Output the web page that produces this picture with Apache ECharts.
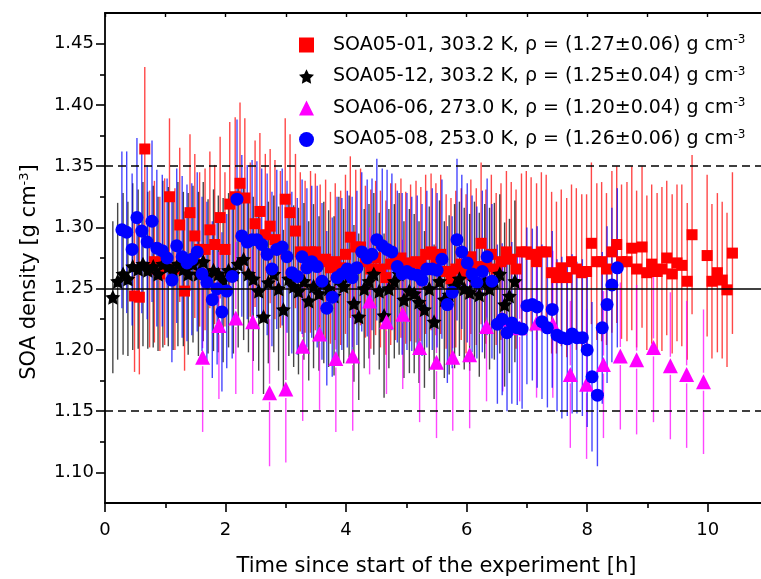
<!DOCTYPE html>
<html>
<head>
<meta charset="utf-8">
<script src="https://cdn.jsdelivr.net/npm/echarts@6/dist/echarts.min.js"></script>
<style>
  html, body { margin: 0; padding: 0; background: #ffffff; }
  #chart { width: 761px; height: 579px; }
</style>
</head>
<body>
<div id="chart"></div>
<script>
// ---- SOA05-01, 303.2 K (squares) ----
const redTime = [0.49,0.57,0.66,0.74,0.82,0.91,0.99,1.07,1.16,1.24,1.32,1.41,1.49,1.57,1.66,1.74,1.82,1.91,1.99,2.07,
  2.16,2.24,2.32,2.41,2.49,2.57,2.66,2.74,2.82,2.91,2.99,3.07,3.16,3.24,3.32,3.41,3.49,3.57,3.66,3.74,
  3.82,3.91,3.99,4.07,4.16,4.24,4.32,4.41,4.49,4.57,4.66,4.74,4.82,4.91,4.99,5.07,5.16,5.24,5.32,5.41,
  5.49,5.57,5.66,5.74,5.82,5.91,5.99,6.07,6.16,6.24,6.32,6.41,6.49,6.57,6.66,6.74,6.82,6.91,6.99,7.07,
  7.16,7.24,7.32,7.41,7.49,7.57,7.66,7.74,7.82,7.91,7.99,8.07,8.16,8.24,8.32,8.41,8.49,8.57,8.66,8.74,
  8.82,8.91,8.99,9.07,9.16,9.24,9.32,9.41,9.49,9.57,9.66,9.74,9.99,10.07,10.16,10.24,10.32,10.41];
const redDensity = [1.244,1.243,1.364,1.266,1.272,1.262,1.272,1.325,1.266,1.302,1.248,1.312,1.293,1.282,1.282,1.298,1.286,1.308,1.282,1.319,
  1.325,1.336,1.324,1.290,1.303,1.313,1.294,1.301,1.290,1.282,1.323,1.312,1.297,1.280,1.276,1.280,1.280,1.272,1.274,1.267,
  1.272,1.267,1.278,1.292,1.284,1.284,1.272,1.266,1.275,1.266,1.259,1.270,1.272,1.275,1.267,1.271,1.272,1.270,1.278,1.280,
  1.274,1.278,1.264,1.258,1.266,1.270,1.262,1.276,1.268,1.287,1.268,1.278,1.266,1.272,1.280,1.274,1.266,1.280,1.280,1.278,
  1.272,1.280,1.280,1.263,1.259,1.267,1.259,1.272,1.266,1.263,1.264,1.287,1.272,1.272,1.266,1.280,1.286,1.272,1.272,1.283,
  1.266,1.284,1.263,1.270,1.264,1.266,1.275,1.262,1.271,1.269,1.256,1.294,1.277,1.256,1.263,1.257,1.249,1.279];
const redError = [0.062,0.063,0.067,0.064,0.066,0.063,0.068,0.064,0.066,0.063,0.065,0.064,0.067,0.063,0.066,0.064,0.065,0.066,0.063,0.067,
  0.065,0.066,0.065,0.063,0.068,0.064,0.066,0.063,0.065,0.064,0.066,0.064,0.063,0.065,0.062,0.066,0.064,0.063,0.065,0.062,
  0.064,0.063,0.065,0.066,0.063,0.064,0.062,0.065,0.063,0.064,0.063,0.066,0.064,0.065,0.062,0.064,0.066,0.063,0.065,0.064,
  0.062,0.065,0.063,0.066,0.064,0.062,0.065,0.063,0.064,0.066,0.063,0.065,0.062,0.064,0.066,0.063,0.065,0.064,0.066,0.063,
  0.064,0.065,0.063,0.066,0.062,0.064,0.065,0.063,0.066,0.064,0.063,0.066,0.064,0.065,0.062,0.066,0.064,0.063,0.065,0.067,
  0.064,0.066,0.063,0.065,0.064,0.067,0.063,0.065,0.064,0.066,0.064,0.065,0.066,0.063,0.065,0.064,0.063,0.066];

// ---- SOA05-12, 303.2 K (stars) ----
const blackTime = [0.13,0.21,0.30,0.38,0.46,0.55,0.63,0.71,0.80,0.88,0.96,1.05,1.13,1.21,1.30,1.38,1.46,1.55,1.63,1.71,
  1.80,1.88,1.96,2.05,2.13,2.21,2.30,2.38,2.46,2.55,2.63,2.71,2.80,2.88,2.96,3.05,3.13,3.21,3.30,3.38,
  3.46,3.55,3.63,3.71,3.80,3.88,3.96,4.05,4.13,4.21,4.30,4.38,4.46,4.55,4.63,4.71,4.80,4.88,4.96,5.05,
  5.13,5.21,5.30,5.38,5.46,5.55,5.63,5.71,5.80,5.88,5.96,6.05,6.13,6.21,6.30,6.38,6.46,6.55,6.63,6.71,6.80];
const blackDensity = [1.243,1.256,1.262,1.258,1.268,1.266,1.270,1.265,1.268,1.262,1.270,1.268,1.264,1.270,1.266,1.262,1.270,1.262,1.272,1.260,
  1.265,1.262,1.257,1.265,1.262,1.270,1.274,1.262,1.258,1.248,1.227,1.255,1.262,1.250,1.233,1.258,1.252,1.248,1.256,1.240,
  1.252,1.246,1.255,1.250,1.244,1.258,1.252,1.260,1.238,1.227,1.250,1.256,1.262,1.248,1.228,1.250,1.256,1.262,1.241,1.248,
  1.246,1.239,1.233,1.250,1.223,1.256,1.241,1.245,1.252,1.258,1.250,1.247,1.256,1.245,1.256,1.250,1.256,1.262,1.237,1.244,1.256];
const blackError = [0.062,0.064,0.066,0.063,0.068,0.065,0.067,0.064,0.066,0.063,0.068,0.065,0.064,0.067,0.063,0.066,0.064,0.067,0.065,0.063,
  0.066,0.064,0.067,0.063,0.065,0.068,0.066,0.064,0.067,0.065,0.063,0.066,0.064,0.067,0.065,0.063,0.066,0.068,0.064,0.065,
  0.067,0.063,0.066,0.064,0.065,0.067,0.063,0.066,0.064,0.068,0.065,0.063,0.066,0.064,0.067,0.065,0.063,0.066,0.064,0.067,
  0.065,0.066,0.064,0.067,0.063,0.066,0.064,0.065,0.067,0.063,0.066,0.064,0.065,0.067,0.063,0.066,0.064,0.065,0.067,0.063,0.066];

// ---- SOA06-06, 273.0 K (triangles) ----
const magentaTime = [1.62,1.89,2.17,2.45,2.73,3.00,3.28,3.56,3.83,4.11,4.39,4.67,4.94,5.22,5.50,5.77,6.05,6.33,6.60,6.88,
  7.16,7.43,7.72,7.99,8.27,8.55,8.82,9.10,9.38,9.65,9.93];
const magentaDensity = [1.194,1.220,1.226,1.223,1.165,1.168,1.203,1.213,1.193,1.195,1.240,1.223,1.229,1.202,1.190,1.194,1.196,1.219,1.225,1.218,
  1.222,1.221,1.180,1.172,1.188,1.195,1.192,1.202,1.187,1.180,1.174];
const magentaError = [0.061,0.060,0.062,0.059,0.060,0.060,0.061,0.062,0.060,0.061,0.060,0.059,0.061,0.061,0.062,0.060,0.060,0.061,0.059,0.060,
  0.061,0.060,0.060,0.061,0.060,0.060,0.061,0.061,0.060,0.060,0.059];

// ---- SOA05-08, 253.0 K (circles) ----
const blueTime = [0.28,0.36,0.45,0.53,0.61,0.70,0.78,0.86,0.95,1.03,1.11,1.19,1.28,1.36,1.44,1.53,1.61,1.69,1.78,1.86,
  1.94,2.02,2.11,2.19,2.27,2.36,2.44,2.52,2.60,2.69,2.77,2.85,2.94,3.02,3.10,3.19,3.27,3.35,3.43,3.52,
  3.60,3.68,3.77,3.85,3.93,4.02,4.10,4.18,4.26,4.35,4.43,4.51,4.60,4.68,4.76,4.85,4.93,5.01,5.09,5.18,
  5.26,5.34,5.43,5.51,5.59,5.68,5.76,5.84,5.92,6.01,6.09,6.17,6.26,6.34,6.42,6.51,6.59,6.67,6.75,6.84,
  6.92,7.00,7.09,7.17,7.25,7.34,7.42,7.50,7.58,7.67,7.75,7.83,7.92,8.00,8.08,8.17,8.25,8.33,8.41,8.50];
const blueDensity = [1.298,1.296,1.282,1.308,1.297,1.288,1.305,1.283,1.281,1.275,1.257,1.285,1.276,1.271,1.274,1.280,1.262,1.255,1.241,1.250,
  1.231,1.248,1.260,1.323,1.293,1.288,1.290,1.290,1.286,1.278,1.266,1.282,1.284,1.276,1.263,1.260,1.276,1.267,1.272,1.268,
  1.256,1.234,1.243,1.259,1.262,1.266,1.259,1.267,1.280,1.275,1.278,1.290,1.285,1.282,1.280,1.268,1.262,1.264,1.262,1.261,
  1.257,1.266,1.266,1.265,1.274,1.237,1.247,1.290,1.280,1.271,1.262,1.255,1.264,1.276,1.256,1.221,1.225,1.214,1.222,1.218,
  1.217,1.236,1.237,1.235,1.223,1.218,1.233,1.212,1.210,1.209,1.213,1.210,1.210,1.200,1.178,1.163,1.218,1.237,1.253,1.267];
const blueError = [0.064,0.066,0.062,0.065,0.067,0.063,0.066,0.064,0.062,0.065,0.067,0.063,0.066,0.064,0.062,0.065,0.063,0.066,0.064,0.062,
  0.065,0.063,0.067,0.065,0.066,0.063,0.065,0.064,0.062,0.066,0.063,0.065,0.064,0.062,0.066,0.064,0.063,0.065,0.062,0.066,
  0.064,0.063,0.065,0.066,0.062,0.064,0.066,0.063,0.065,0.064,0.062,0.066,0.063,0.065,0.064,0.062,0.066,0.064,0.063,0.065,
  0.062,0.064,0.066,0.063,0.065,0.064,0.062,0.066,0.063,0.065,0.064,0.062,0.066,0.064,0.063,0.065,0.062,0.064,0.066,0.063,
  0.065,0.064,0.062,0.066,0.063,0.065,0.064,0.062,0.066,0.063,0.065,0.062,0.064,0.063,0.061,0.058,0.062,0.064,0.063,0.065];

// ---- axes, ticks and reference levels ----
const xMajorTicks = [0, 2, 4, 6, 8, 10];
const xMinorTicks = [1, 3, 5, 7, 9];
const xTopTicks = [0, 1, 2, 3, 4, 5, 6, 7, 8, 9, 10];
const yMajorTicks = [1.10, 1.15, 1.20, 1.25, 1.30, 1.35, 1.40, 1.45];
const yMinorTicks = [1.125, 1.175, 1.225, 1.275, 1.325, 1.375, 1.425];
const refLevels = [1.15, 1.25, 1.35];

const seriesNames = ['SOA05-01', 'SOA05-12', 'SOA06-06', 'SOA05-08'];
const legendLabels = {
  'SOA05-01': 'SOA05-01, 303.2 K, ρ = (1.27±0.06) g cm',
  'SOA05-12': 'SOA05-12, 303.2 K, ρ = (1.25±0.04) g cm',
  'SOA06-06': 'SOA06-06, 273.0 K, ρ = (1.20±0.04) g cm',
  'SOA05-08': 'SOA05-08, 253.0 K, ρ = (1.26±0.06) g cm'
};

const FONT = "'DejaVu Sans', 'Liberation Sans', Arial, sans-serif";
const STAR = 'path://M0,-10L2.94,-4.05L9.51,-3.09L4.76,1.55L5.88,8.09L0,5.2L-5.88,8.09L-4.76,1.55L-9.51,-3.09L-2.94,-4.05Z';

function zipRows(t, v, e) {
  return t.map((x, i) => [x, v[i], e[i]]);
}

// vertical error bars with a small gap around the marker
function errorBarSeries(name, rows, color, gap) {
  return {
    type: 'custom',
    name: name + ' error',
    data: rows,
    clip: true,
    silent: true,
    encode: { x: 0, y: 1 },
    renderItem: function (params, api) {
      const x = api.value(0), y = api.value(1), e = api.value(2);
      const top = api.coord([x, y + e]);
      const mid = api.coord([x, y]);
      const bot = api.coord([x, y - e]);
      const style = { stroke: color, lineWidth: 1.4, opacity: 0.72 };
      return {
        type: 'group',
        children: [
          { type: 'line', shape: { x1: top[0], y1: top[1], x2: mid[0], y2: mid[1] - gap }, style: style },
          { type: 'line', shape: { x1: mid[0], y1: mid[1] + gap, x2: bot[0], y2: bot[1] }, style: style }
        ]
      };
    }
  };
}

function markerSeries(name, rows, color, symbol, size) {
  return {
    type: 'scatter',
    name: name,
    data: rows.map(r => [r[0], r[1]]),
    symbol: symbol,
    symbolSize: size,
    itemStyle: { color: color, opacity: 1 },
    clip: true,
    silent: true
  };
}

const redRows = zipRows(redTime, redDensity, redError);
const blackRows = zipRows(blackTime, blackDensity, blackError);
const magentaRows = zipRows(magentaTime, magentaDensity, magentaError);
const blueRows = zipRows(blueTime, blueDensity, blueError);

const refLineSeries = {
  type: 'line',
  name: 'reference levels',
  data: [],
  silent: true,
  markLine: {
    silent: true,
    symbol: 'none',
    label: { show: false },
    data: refLevels.map(v => ({
      yAxis: v,
      lineStyle: { color: '#000', width: 1.6, type: v === 1.25 ? 'solid' : [8, 5] }
    }))
  }
};

const chart = echarts.init(document.getElementById('chart'), null, { renderer: 'canvas' });

chart.setOption({
  animation: false,
  backgroundColor: '#ffffff',
  textStyle: { fontFamily: FONT },
  grid: { left: 105, top: 13, width: 663, height: 490, containLabel: false, outerBoundsMode: 'none' },
  legend: {
    orient: 'vertical',
    left: 294,
    top: 29,
    itemWidth: 15,
    itemHeight: 15,
    itemGap: 11,
    selectedMode: false,
    data: seriesNames,
    formatter: name => '{t|' + legendLabels[name] + '}{s|-3}',
    textStyle: {
      color: '#000',
      fontFamily: FONT,
      padding: [0, 0, 0, 14],
      rich: {
        t: { fontSize: 19, fontFamily: FONT, color: '#000', lineHeight: 22 },
        s: { fontSize: 12, fontFamily: FONT, color: '#000', lineHeight: 12, verticalAlign: 'top' }
      }
    }
  },
  xAxis: [
    {
      type: 'value', position: 'bottom', min: 0, max: 11,
      name: 'Time since start of the experiment [h]',
      nameLocation: 'middle', nameGap: 53,
      nameTextStyle: { fontSize: 21, color: '#000', fontFamily: FONT },
      axisLine: { show: true, onZero: false, lineStyle: { color: '#000', width: 1.8 } },
      axisTick: { show: true, inside: false, length: 9, customValues: xMajorTicks, lineStyle: { color: '#000', width: 1.6 } },
      axisLabel: { show: true, customValues: xMajorTicks, fontSize: 18, color: '#000', margin: 18, fontFamily: FONT },
      splitLine: { show: false }
    },
    {
      type: 'value', position: 'bottom', min: 0, max: 11,
      axisLine: { show: false, onZero: false },
      axisTick: { show: true, inside: false, length: 5, customValues: xMinorTicks, lineStyle: { color: '#000', width: 1.6 } },
      axisLabel: { show: false },
      splitLine: { show: false }
    },
    {
      type: 'value', position: 'top', min: 0, max: 11,
      axisLine: { show: true, onZero: false, lineStyle: { color: '#000', width: 1.8 } },
      axisTick: { show: true, inside: true, length: 4, customValues: xTopTicks, lineStyle: { color: '#000', width: 1.4 } },
      axisLabel: { show: false },
      splitLine: { show: false }
    }
  ],
  yAxis: [
    {
      type: 'value', position: 'left', min: 1.075, max: 1.475,
      name: '{t|SOA density [g cm}{s|-3}{t|]}',
      nameLocation: 'middle', nameGap: 63,
      nameTextStyle: {
        color: '#000', fontFamily: FONT,
        padding: [0, 28, 0, 0],
        rich: {
          t: { fontSize: 21, fontFamily: FONT, color: '#000', lineHeight: 24 },
          s: { fontSize: 13, fontFamily: FONT, color: '#000', lineHeight: 13, verticalAlign: 'top' }
        }
      },
      axisLine: { show: true, onZero: false, lineStyle: { color: '#000', width: 1.8 } },
      axisTick: { show: true, inside: false, length: 9, customValues: yMajorTicks, lineStyle: { color: '#000', width: 1.6 } },
      axisLabel: { show: true, customValues: yMajorTicks, fontSize: 18, color: '#000', margin: 11, fontFamily: FONT,
        formatter: v => v.toFixed(2) },
      splitLine: { show: false }
    },
    {
      type: 'value', position: 'left', min: 1.075, max: 1.475,
      axisLine: { show: false, onZero: false },
      axisTick: { show: true, inside: false, length: 5, customValues: yMinorTicks, lineStyle: { color: '#000', width: 1.6 } },
      axisLabel: { show: false },
      splitLine: { show: false }
    }
  ],
  series: [
    refLineSeries,
    errorBarSeries('SOA05-01', redRows, '#ff0000', 0),
    markerSeries('SOA05-01', redRows, '#ff0000', 'rect', 11),
    errorBarSeries('SOA05-12', blackRows, '#000000', 0),
    markerSeries('SOA05-12', blackRows, '#000000', STAR, 15),
    errorBarSeries('SOA06-06', magentaRows, '#ff00ff', 9),
    markerSeries('SOA06-06', magentaRows, '#ff00ff', 'triangle', 15),
    errorBarSeries('SOA05-08', blueRows, '#0000ff', 0),
    markerSeries('SOA05-08', blueRows, '#0000ff', 'circle', 13)
  ]
});
</script>
</body>
</html>
